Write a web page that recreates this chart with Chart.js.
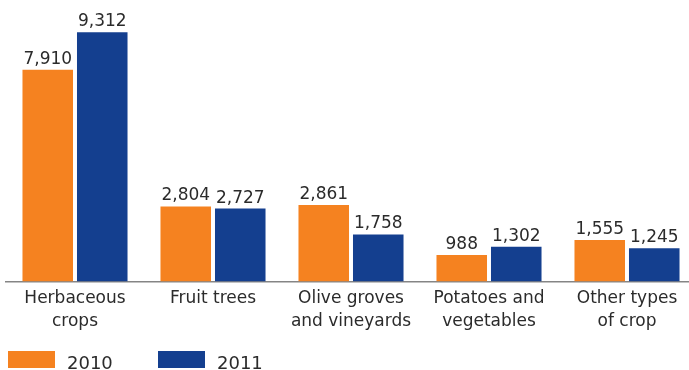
<!DOCTYPE html>
<html>
<head>
<meta charset="utf-8">
<script src="https://cdn.jsdelivr.net/npm/chart.js@4.4.1/dist/chart.umd.min.js"></script>
<style>
  html, body { margin: 0; padding: 0; background: #fff; overflow: hidden; }
  #wrap { position: relative; width: 696px; height: 370px; }
</style>
</head>
<body>
<div id="wrap"><canvas id="c"></canvas></div>
<script>
// Cultivated area by crop type
const categories = [
  ['Herbaceous', 'crops'],
  'Fruit trees',
  ['Olive groves', 'and vineyards'],
  ['Potatoes and', 'vegetables'],
  ['Other types', 'of crop']
];
const values2010 = [7910, 2804, 2861, 988, 1555];
const values2011 = [9312, 2727, 1758, 1302, 1245];
const seriesLabels = ['2010', '2011'];
const seriesColors = ['#F58220', '#143F8F'];

const FONT = "'DejaVu Sans', 'Liberation Sans', sans-serif";
const TEXT = '#2b2b2b';

// Value labels above each bar
const valueLabels = {
  id: 'valueLabels',
  afterDatasetsDraw(chart) {
    const ctx = chart.ctx;
    ctx.save();
    ctx.font = '17px ' + FONT;
    ctx.fillStyle = TEXT;
    ctx.textAlign = 'center';
    ctx.textBaseline = 'alphabetic';
    chart.data.datasets.forEach((ds, i) => {
      chart.getDatasetMeta(i).data.forEach((bar, j) => {
        ctx.fillText(ds.data[j].toLocaleString('en-US'), bar.x, bar.y - 6);
      });
    });
    ctx.restore();
  }
};

// Legend row along the bottom edge
const bottomLegend = {
  id: 'bottomLegend',
  afterDraw(chart) {
    const ctx = chart.ctx;
    ctx.save();
    ctx.font = '18px ' + FONT;
    ctx.textAlign = 'left';
    ctx.textBaseline = 'alphabetic';
    chart.data.datasets.forEach((ds, i) => {
      const x = 8 + i * 150;
      ctx.fillStyle = ds.backgroundColor;
      ctx.fillRect(x, 351, 47, 17);
      ctx.fillStyle = TEXT;
      ctx.fillText(ds.label, x + 59, 368.5);
    });
    ctx.restore();
  }
};

new Chart(document.getElementById('c'), {
  type: 'bar',
  data: {
    labels: categories,
    datasets: [
      { label: seriesLabels[0], data: values2010, backgroundColor: seriesColors[0] },
      { label: seriesLabels[1], data: values2011, backgroundColor: seriesColors[1] }
    ]
  },
  options: {
    responsive: true,
    maintainAspectRatio: false,
    animation: false,
    layout: { padding: { left: 6, right: 0, top: 0, bottom: 30.5 } },
    datasets: {
      bar: { categoryPercentage: 0.79, barPercentage: 0.927 }
    },
    plugins: {
      legend: { display: false },
      tooltip: { enabled: false }
    },
    scales: {
      x: {
        z: 1,
        grid: { display: false, drawTicks: false },
        border: { display: true, color: '#858585', width: 1.5 },
        ticks: {
          padding: 6,
          color: TEXT,
          font: { family: FONT, size: 17, lineHeight: '23px' },
          maxRotation: 0,
          autoSkip: false
        }
      },
      y: {
        display: false,
        min: 0,
        max: 10520
      }
    }
  },
  plugins: [valueLabels, bottomLegend]
});
</script>
</body>
</html>
